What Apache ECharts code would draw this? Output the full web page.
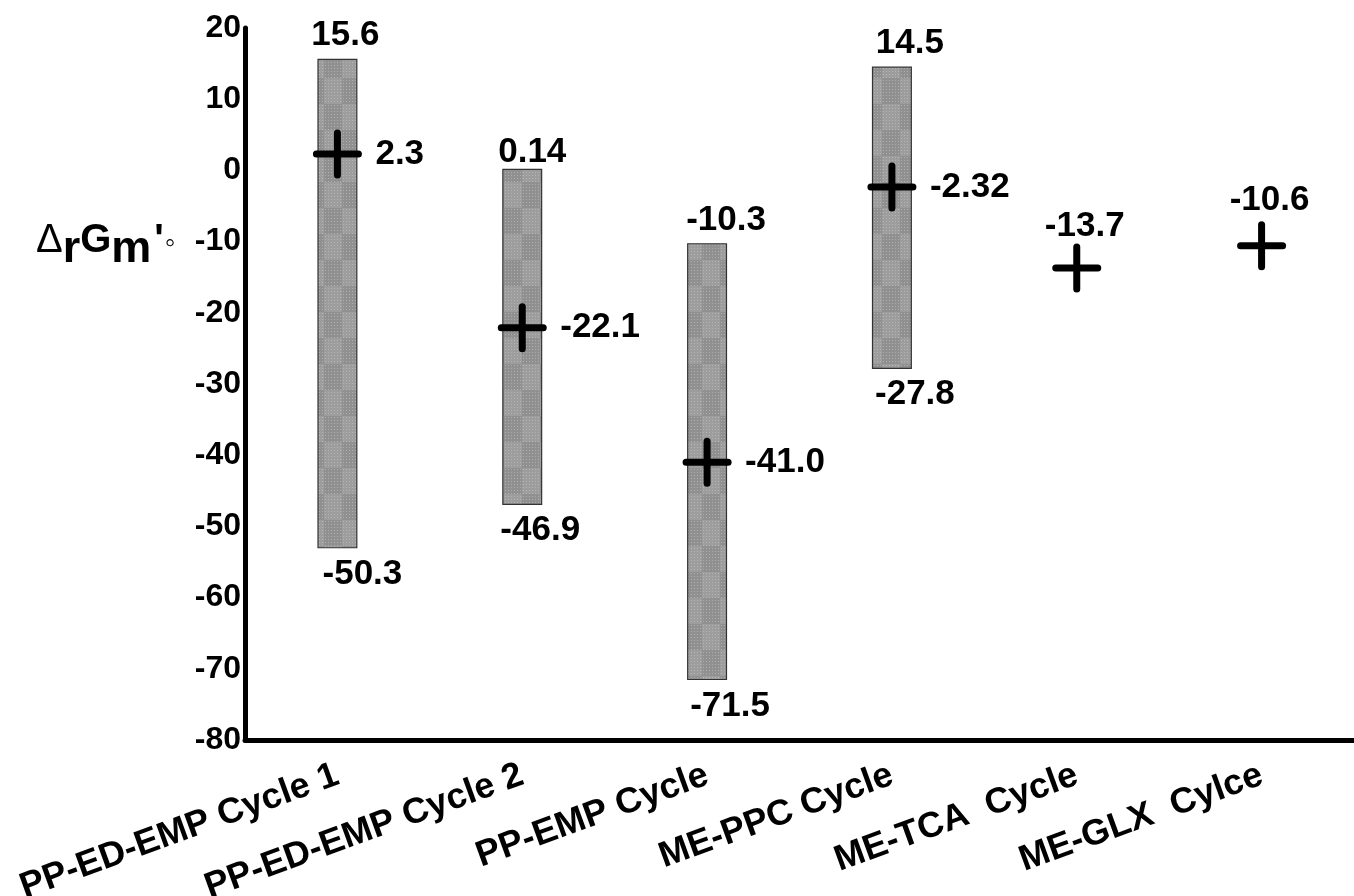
<!DOCTYPE html>
<html>
<head>
<meta charset="utf-8">
<script src="https://cdn.jsdelivr.net/npm/echarts@6/dist/echarts.min.js"></script>
<style>html,body{margin:0;padding:0;background:#fff;}#c{width:1354px;height:896px;}</style>
</head>
<body>
<div id="c"></div>
<script>
const categories = ['PP-ED-EMP Cycle 1', 'PP-ED-EMP Cycle 2', 'PP-EMP Cycle', 'ME-PPC Cycle', 'ME-TCA  Cycle', 'ME-GLX  Cylce'];
const rangeHigh = [15.6, 0.14, -10.3, 14.5, null, null];
const rangeLow = [-53.0, -46.9, -71.5, -27.8, null, null];
const highLabels = ['15.6', '0.14', '-10.3', '14.5', '', ''];
const lowLabels = ['-50.3', '-46.9', '-71.5', '-27.8', '', ''];
const centerValues = [2.3, -22.1, -41.0, -2.32, -13.7, -10.6];
const centerLabels = ['2.3', '-22.1', '-41.0', '-2.32', '-13.7', '-10.6'];
const yTicks = { min: -80, max: 20, interval: 10 };

const FONT = '"Liberation Sans", Arial, sans-serif';
const chart = echarts.init(document.getElementById('c'), null, { renderer: 'canvas' });

// textured gray fill for the range bars
function makePattern() {
  const cv = document.createElement('canvas');
  cv.width = 36; cv.height = 52;
  const g = cv.getContext('2d');
  g.fillStyle = '#9d9d9d';
  g.fillRect(0, 0, 36, 52);
  g.fillStyle = '#909090';
  g.fillRect(0, 0, 18, 26);
  g.fillRect(18, 26, 18, 26);
  g.fillStyle = 'rgba(205,205,205,0.5)';
  for (let y = 1; y < 52; y += 3) {
    for (let x = 1; x < 36; x += 3) {
      g.fillRect(x, y, 1, 1);
    }
  }
  return { image: cv, repeat: 'repeat' };
}
const barFill = makePattern();

const rangeData = [];
const topLabelData = [];
const lowLabelData = [];
const topOff = [[8, 0], [10, 6], [19, 0], [18, 0]];
const lowOff = [[25, 0], [18, 0], [23, 0], [23, 0]];
const labelFont = { fontFamily: FONT, fontWeight: 'bold', fontSize: 35, color: '#000' };
categories.forEach((c, i) => {
  if (rangeHigh[i] !== null) {
    rangeData.push([i, rangeHigh[i], rangeLow[i]]);
    topLabelData.push({ value: [i, rangeHigh[i]], label: Object.assign({ formatter: highLabels[i], offset: topOff[i] }, labelFont) });
    lowLabelData.push({ value: [i, rangeLow[i]], label: Object.assign({ formatter: lowLabels[i], offset: lowOff[i] }, labelFont) });
  }
});
const crossData = centerValues.map((v, i) => [i, v]);
const crossLabelData = centerValues.map((v, i) => {
  const hasBar = rangeHigh[i] !== null;
  return {
    value: [i, v],
    label: Object.assign(hasBar
      ? { formatter: centerLabels[i], position: 'right', distance: 38 }
      : { formatter: centerLabels[i], position: 'top', distance: i === 5 ? 28 : 24, offset: [8, 0] }, labelFont)
  };
});

const option = {
  backgroundColor: '#fff',
  animation: false,
  title: {
    left: 31, top: 216,
    text: '{d|Δ}{s|r}{g|G}{s|m}{q|\'}{o|◦}',
    textStyle: {
      rich: {
        d: { fontFamily: FONT, fontSize: 40, fontWeight: 'normal', color: '#000', verticalAlign: 'bottom', padding: [0, 0, 11, 0] },
        g: { fontFamily: FONT, fontSize: 40, fontWeight: 'bold', color: '#000', verticalAlign: 'bottom', padding: [0, 0, 11, 0] },
        s: { fontFamily: FONT, fontSize: 45, fontWeight: 'bold', color: '#000', verticalAlign: 'bottom', padding: [0, 0, 0, 0] },
        q: { fontFamily: FONT, fontSize: 40, fontWeight: 'bold', color: '#000', verticalAlign: 'bottom', padding: [0, 1, 11, 3] },
        o: { fontFamily: FONT, fontSize: 30, fontWeight: 'normal', color: '#000', verticalAlign: 'bottom', padding: [0, 0, 13, 0] }
      }
    }
  },
  grid: { left: 245, right: 0, top: 28, bottom: 156, containLabel: false, outerBoundsMode: 'none' },
  xAxis: {
    type: 'category',
    data: categories,
    boundaryGap: true,
    axisLine: { show: true, onZero: false, lineStyle: { color: '#000', width: 5 } },
    axisTick: { show: false },
    splitLine: { show: false },
    axisLabel: {
      interval: 0, rotate: 20, margin: 34,
      fontFamily: FONT, fontWeight: 'bold', fontSize: 36, color: '#000'
    }
  },
  yAxis: {
    type: 'value',
    min: yTicks.min, max: yTicks.max, interval: yTicks.interval,
    axisLine: { show: true, lineStyle: { color: '#000', width: 5 } },
    axisTick: { show: false },
    splitLine: { show: false },
    axisLabel: { margin: 4, fontFamily: FONT, fontWeight: 'bold', fontSize: 32, color: '#000' }
  },
  series: [
    {
      type: 'custom',
      name: 'range',
      data: rangeData,
      encode: { x: 0, y: [1, 2] },
      renderItem: function (params, api) {
        const x = api.value(0);
        const p1 = api.coord([x, api.value(1)]);
        const p2 = api.coord([x, api.value(2)]);
        const w = api.size([1, 0])[0] * 0.21;
        return {
          type: 'rect',
          shape: { x: p1[0] - w / 2, y: p1[1], width: w, height: p2[1] - p1[1] },
          style: { fill: barFill, stroke: '#333', lineWidth: 1.2 }
        };
      },
      z: 2
    },
    {
      type: 'custom',
      name: 'center',
      data: crossData,
      encode: { x: 0, y: 1 },
      renderItem: function (params, api) {
        const p = api.coord([api.value(0), api.value(1)]);
        const a = 21;
        const st = { stroke: '#000', lineWidth: 7, lineCap: 'round' };
        return {
          type: 'group',
          children: [
            { type: 'line', shape: { x1: p[0] - a, y1: p[1], x2: p[0] + a, y2: p[1] }, style: st },
            { type: 'line', shape: { x1: p[0], y1: p[1] - a, x2: p[0], y2: p[1] + a }, style: st }
          ]
        };
      },
      z: 3
    },
    {
      type: 'scatter', name: 'highLabels', data: topLabelData, symbolSize: 0, silent: true,
      itemStyle: { opacity: 1 },
      label: Object.assign({ show: true, position: 'top', distance: 6 }, labelFont)
    },
    {
      type: 'scatter', name: 'lowLabels', data: lowLabelData, symbolSize: 0, silent: true,
      itemStyle: { opacity: 1 },
      label: Object.assign({ show: true, position: 'bottom', distance: 9 }, labelFont)
    },
    {
      type: 'scatter', name: 'centerLabels', data: crossLabelData, symbolSize: 0, silent: true,
      itemStyle: { opacity: 1 },
      label: Object.assign({ show: true }, labelFont)
    }
  ]
};
chart.setOption(option);
</script>
</body>
</html>
